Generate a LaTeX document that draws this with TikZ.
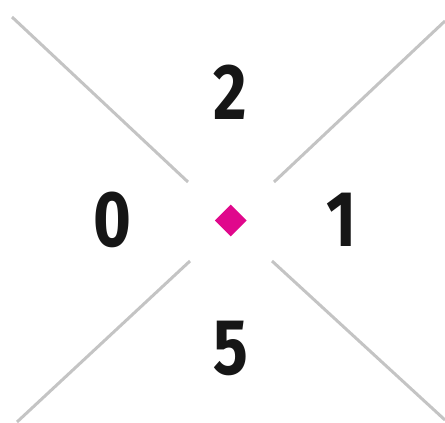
\documentclass[tikz,border=0pt]{standalone}
\usepackage{fontspec}
\usetikzlibrary{shapes.geometric}
\setmainfont{Fira Sans}
\definecolor{rayas}{HTML}{C4C4C4}
\definecolor{rombo}{HTML}{E0088C}
\definecolor{cifra}{HTML}{161616}

\begin{document}
\begin{tikzpicture}[x=1pt,y=-1pt]
%----------estilos---------
\tikzset{raya/.style={
draw=rayas,
line width=3pt,
line cap=butt},
digito/.style={
text=cifra,
font=\fontsize{79}{79}\selectfont\bfseries,
xscale=0.82,
transform shape,
inner sep=0pt},
marca/.style={
diamond,
fill=rombo,
minimum size=32pt,
inner sep=0pt}};

\useasboundingbox (0,0) rectangle (445,423);

%------------ rayas---------------
\draw [raya](12,17)--(188,182);
\draw [raya](445,21)--(274,182);
\draw [raya](17,422)--(190,261);
\draw [raya](272,261)--(445,420);

%------------ centro---------------
\node [marca] (centro) at (230.7,220.5) {};

% -----------cifras----------------
\node [digito] (dos) at (230.5,92.5) {2};
\node [digito] (cero) at (112,220) {0};
\node [digito] (uno) at (342,220) {1};
\node [digito] (cinco) at (230.5,348) {5};
\end{tikzpicture}
\end{document}
